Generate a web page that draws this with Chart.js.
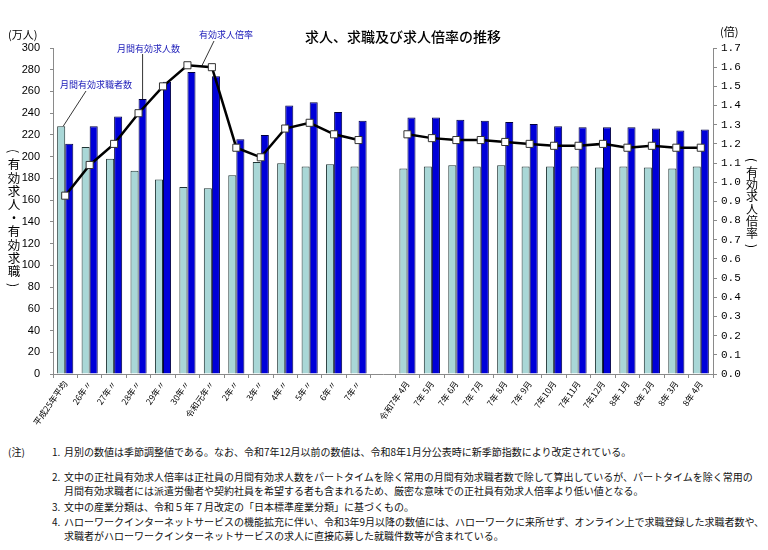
<!DOCTYPE html>
<html lang="ja">
<head>
<meta charset="utf-8">
<title>求人、求職及び求人倍率の推移</title>
<script src="https://cdn.jsdelivr.net/npm/chart.js@4.4.1/dist/chart.umd.min.js"></script>
<style>
  html, body { margin: 0; padding: 0; background: #fff; }
  body { width: 768px; height: 550px; position: relative; overflow: hidden; font-family: "Noto Sans CJK JP", sans-serif; }
  #chart { position: absolute; left: 0; top: 0; }
  .note { position: absolute; font-size: 10px; line-height: 14px; color: #111; white-space: nowrap; }
</style>
</head>
<body>
<canvas id="chart" width="768" height="440"></canvas>

<div class="note" style="left:8px; top:445px">(注)</div>
<div class="note" style="left:52px; top:445px">1.</div>
<div class="note" style="left:64px; top:445px">月別の数値は季節調整値である。なお、令和7年12月以前の数値は、令和8年1月分公表時に新季節指数により改定されている。</div>
<div class="note" style="left:52px; top:470px">2.</div>
<div class="note" style="left:64px; top:470px">文中の正社員有効求人倍率は正社員の月間有効求人数をパートタイムを除く常用の月間有効求職者数で除して算出しているが、パートタイムを除く常用の</div>
<div class="note" style="left:64px; top:484px">月間有効求職者には派遣労働者や契約社員を希望する者も含まれるため、厳密な意味での正社員有効求人倍率より低い値となる。</div>
<div class="note" style="left:52px; top:500px">3.</div>
<div class="note" style="left:64px; top:500px">文中の産業分類は、令和５年７月改定の「日本標準産業分類」に基づくもの。</div>
<div class="note" style="left:52px; top:515px">4.</div>
<div class="note" style="left:64px; top:515px">ハローワークインターネットサービスの機能拡充に伴い、令和3年9月以降の数値には、ハローワークに来所せず、オンライン上で求職登録した求職者数や、</div>
<div class="note" style="left:64px; top:529px">求職者がハローワークインターネットサービスの求人に直接応募した就職件数等が含まれている。</div>

<script>
// 年平均13本、空き1つ、月次13本
const categories = [
  "平成25年平均", "26年〃", "27年〃", "28年〃", "29年〃", "30年〃", "令和元年〃",
  "2年〃", "3年〃", "4年〃", "5年〃", "6年〃", "7年〃",
  "",
  "令和7年 4月", "7年 5月", "7年 6月", "7年 7月", "7年 8月", "7年 9月", "7年10月",
  "7年11月", "7年12月", "8年 1月", "8年 2月", "8年 3月", "8年 4月"
]

// 月間有効求職者数 (万人)
const jobSeekers = [228, 209, 198, 187, 179, 172, 171, 183, 195, 194, 191, 193, 191,
  null,
  189, 191, 192, 191, 192, 191, 191, 191, 190, 191, 190, 189, 191]

// 月間有効求人数 (万人)
const jobOffers = [212, 228, 237, 253, 269, 278, 274, 216, 220, 247, 250, 241, 233,
  null,
  236, 236, 234, 233, 232, 230, 228, 227, 227, 227, 226, 224, 225]

// 有効求人倍率 (倍)
const jobRatio = [0.93, 1.09, 1.20, 1.36, 1.50, 1.61, 1.60, 1.18, 1.13, 1.28, 1.31, 1.25, 1.22,
  null,
  1.25, 1.23, 1.22, 1.22, 1.21, 1.20, 1.19, 1.19, 1.20, 1.18, 1.19, 1.18, 1.18]

const leftAxis = { min: 0, max: 300, step: 20 }
const rightAxis = { min: 0, max: 1.7, step: 0.1 }

const title = "求人、求職及び求人倍率の推移"
const leftTitle = "(有効求人・有効求職)"
const rightTitle = "(有効求人倍率)"

const axisGrey = "#8a8a8a"
const noteBlue = "#1a1ab8"

// 縦書き: 括弧だけ90度回す
function drawVertical(ctx, text, cx, top, step) {
  [...text].forEach((ch, i) => {
    const y = top + i * step
    if (ch === "(" || ch === ")") {
      ctx.save()
      ctx.translate(cx, y)
      ctx.rotate(Math.PI / 2)
      ctx.fillText(ch, 0, 0)
      ctx.restore()
    } else {
      ctx.fillText(ch, cx, y)
    }
  })
}

const extras = {
  id: "extras",
  afterDatasetsDraw(chart) {
    const ctx = chart.ctx
    const seekBar = chart.getDatasetMeta(0).data[0]
    const offerBar = chart.getDatasetMeta(1).data[3]
    const p5 = chart.getDatasetMeta(2).data[5]
    const p6 = chart.getDatasetMeta(2).data[6]

    ctx.save()
    ctx.strokeStyle = "#000"
    ctx.lineWidth = 0.8

    ctx.beginPath()
    ctx.moveTo(86, 91)
    ctx.lineTo(seekBar.x + 2, seekBar.y)
    ctx.stroke()

    ctx.beginPath()
    ctx.moveTo(offerBar.x, 54)
    ctx.lineTo(offerBar.x, offerBar.y)
    ctx.stroke()

    ctx.beginPath()
    ctx.moveTo(214, 41)
    ctx.lineTo((p5.x + p6.x) / 2 + 2, (p5.y + p6.y) / 2)
    ctx.stroke()
    ctx.restore()
  },
  afterDraw(chart) {
    const ctx = chart.ctx
    ctx.save()
    ctx.fillStyle = "#000"
    ctx.textBaseline = "middle"

    ctx.font = '500 14px "Noto Sans CJK JP"'
    ctx.textAlign = "center"
    ctx.fillText(title, 403, 37)

    ctx.font = '11px "Noto Sans CJK JP"'
    ctx.textAlign = "left"
    ctx.fillText("(万人)", 8, 35)
    ctx.fillText("(倍)", 720, 32)

    ctx.textAlign = "center"
    ctx.font = '12.5px "Noto Sans CJK JP"'
    drawVertical(ctx, leftTitle, 14, 151, 13.4)
    ctx.font = '12px "Noto Sans CJK JP"'
    drawVertical(ctx, rightTitle, 752, 160, 12.3)

    ctx.fillStyle = noteBlue
    ctx.textAlign = "left"
    ctx.font = '9px "Noto Sans CJK JP"'
    ctx.fillText("月間有効求職者数", 60, 85)
    ctx.fillText("月間有効求人数", 117, 49)
    ctx.fillText("有効求人倍率", 199, 35)
    ctx.restore()
  }
}

new Chart(document.getElementById("chart"), {
  data: {
    labels: categories,
    datasets: [
      {
        type: "bar",
        label: "月間有効求職者数",
        data: jobSeekers,
        backgroundColor: "#a9d7d7",
        borderColor: "#1f3535",
        borderWidth: 1,
        categoryPercentage: 0.66,
        barPercentage: 1.0,
        yAxisID: "y",
        order: 2
      },
      {
        type: "bar",
        label: "月間有効求人数",
        data: jobOffers,
        backgroundColor: "#0000d8",
        borderColor: "#000040",
        borderWidth: 1,
        categoryPercentage: 0.66,
        barPercentage: 1.0,
        yAxisID: "y",
        order: 2
      },
      {
        type: "line",
        label: "有効求人倍率",
        data: jobRatio,
        borderColor: "#000",
        borderWidth: 2.5,
        tension: 0,
        spanGaps: false,
        pointStyle: "rect",
        pointRadius: 5,
        pointBackgroundColor: "#fff",
        pointBorderColor: "#333",
        pointBorderWidth: 1,
        yAxisID: "y1",
        order: 1
      }
    ]
  },
  options: {
    responsive: false,
    animation: false,
    devicePixelRatio: 1,
    layout: { padding: { top: 48, left: 0, right: 0, bottom: 0 } },
    plugins: {
      legend: { display: false },
      tooltip: { enabled: false }
    },
    scales: {
      x: {
        offset: true,
        grid: { drawOnChartArea: false, tickLength: 4, color: axisGrey, offset: true },
        border: { color: axisGrey },
        ticks: {
          autoSkip: false,
          minRotation: 55,
          maxRotation: 55,
          padding: 1,
          color: "#000",
          font: { family: "Noto Sans CJK JP", size: 8.5 }
        },
        afterFit(s) { s.height = 66 }
      },
      y: {
        position: "left",
        min: leftAxis.min,
        max: leftAxis.max,
        grid: { drawOnChartArea: false, tickLength: 3, color: axisGrey },
        border: { color: axisGrey },
        ticks: {
          stepSize: leftAxis.step,
          padding: 10,
          color: "#000",
          font: { family: "Liberation Sans", size: 11 }
        },
        afterFit(s) { s.width = 53 }
      },
      y1: {
        position: "right",
        min: rightAxis.min,
        max: rightAxis.max,
        grid: { drawOnChartArea: false, tickLength: 4, color: axisGrey },
        border: { color: axisGrey },
        ticks: {
          stepSize: rightAxis.step,
          padding: 4,
          color: "#000",
          font: { family: "Liberation Mono", size: 11 },
          callback: v => Number(v).toFixed(1)
        },
        afterFit(s) { s.width = 55 }
      }
    }
  },
  plugins: [extras]
})
</script>
</body>
</html>
